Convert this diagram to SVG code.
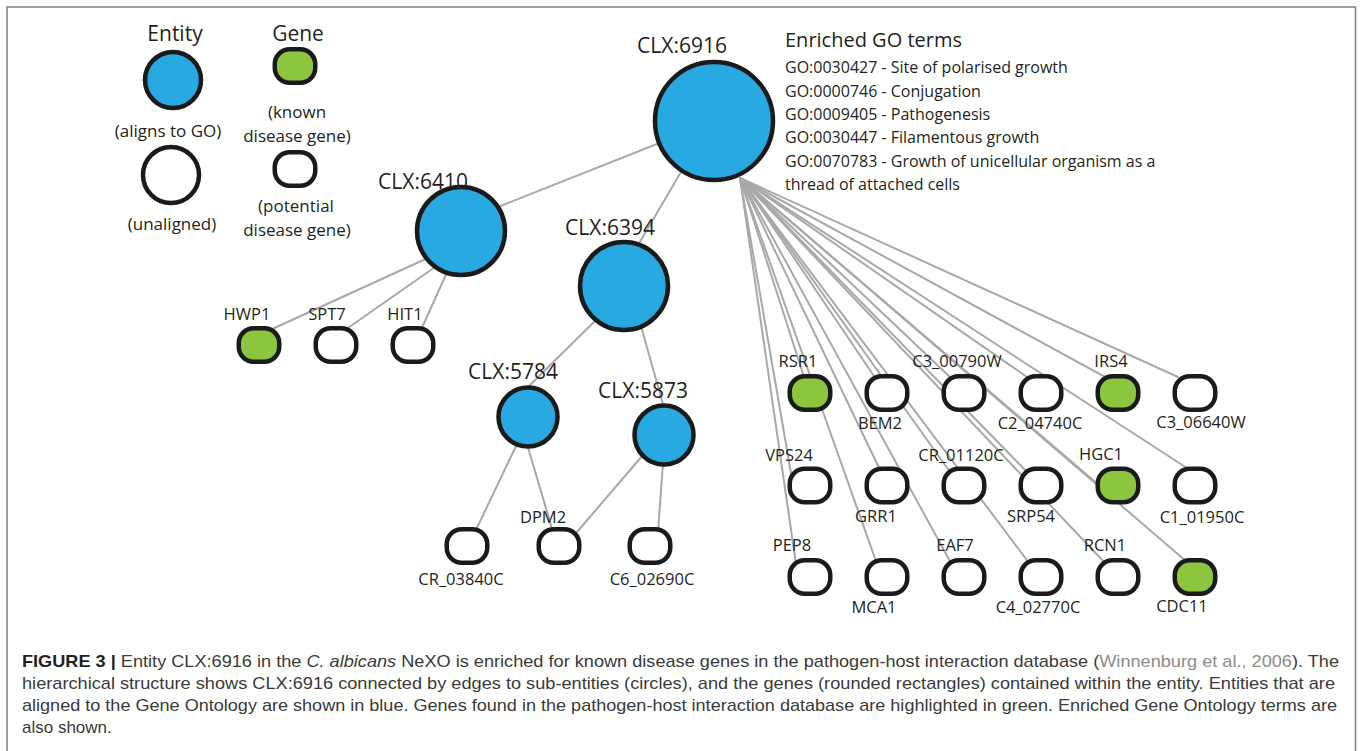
<svg xmlns="http://www.w3.org/2000/svg" xmlns:xlink="http://www.w3.org/1999/xlink" width="1360" height="751" viewBox="0 0 1360 751">
<style>
.edge{stroke:#a8a8a8;stroke-width:2;fill:none;stroke-linecap:round}
.ent{stroke:#1a1a1a;stroke-width:4.5}
.blue{fill:#29a9e1}
.green{fill:#8cc63f}
.white{fill:#ffffff}
.gene{stroke:#1a1a1a;stroke-width:4.5}
.lbl{font-family:"Open Sans","Noto Sans",sans-serif;fill:#231f20;text-anchor:middle}
.clx{font-size:21px}
.gl{font-size:16.5px}
.leg{font-size:17px}
.legt{font-size:21px}
.go{font-family:"Open Sans","Noto Sans",sans-serif;fill:#231f20;font-size:16px}
.cap{font-family:"Liberation Sans",Arial,sans-serif;font-size:17px;fill:#3a3a3a}
</style>
<defs>
<rect id="gb" x="-20.25" y="-16.75" width="40.5" height="33.5" rx="15" ry="15"/>
</defs>
<rect x="0" y="0" width="1360" height="751" fill="#ffffff"/>
<path d="M7,760 V7 H1355.5 V760" fill="none" stroke="#808080" stroke-width="1.5"/>

<g id="legend">
<text class="lbl legt" x="175" y="41">Entity</text>
<text class="lbl legt" x="298" y="41">Gene</text>
<circle class="ent blue" cx="173" cy="80" r="28"/>
<text class="lbl leg" x="168" y="137">(aligns to GO)</text>
<circle class="ent white" cx="171" cy="175" r="28"/>
<text class="lbl leg" x="172" y="230">(unaligned)</text>
<use xlink:href="#gb" x="295" y="66" class="gene green"/>
<text class="lbl leg" x="297" y="118">(known</text>
<text class="lbl leg" x="297" y="142">disease gene)</text>
<use xlink:href="#gb" x="295" y="169" class="gene white"/>
<text class="lbl leg" x="296" y="212">(potential</text>
<text class="lbl leg" x="297" y="236">disease gene)</text>
</g>

<g id="connectors">
<line class="edge" x1="662" y1="142" x2="498" y2="207"/>
<line class="edge" x1="688" y1="160" x2="634" y2="252"/>
<line class="edge" x1="430" y1="257" x2="270" y2="330"/>
<line class="edge" x1="438" y1="265" x2="345" y2="330"/>
<line class="edge" x1="449" y1="268" x2="420" y2="332"/>
<line class="edge" x1="598" y1="318" x2="525" y2="390"/>
<line class="edge" x1="641" y1="326" x2="664" y2="408"/>
<line class="edge" x1="517" y1="444" x2="475" y2="532"/>
<line class="edge" x1="527" y1="444" x2="553" y2="532"/>
<line class="edge" x1="643" y1="455" x2="577" y2="532"/>
<line class="edge" x1="663" y1="463" x2="658" y2="532"/>
<g id="fan">
<line class="edge" x1="740" y1="178" x2="796" y2="564"/>
<line class="edge" x1="740" y1="178" x2="791" y2="473"/>
<line class="edge" x1="740" y1="178" x2="805" y2="380"/>
<line class="edge" x1="740" y1="178" x2="877" y2="564"/>
<line class="edge" x1="740" y1="178" x2="881" y2="472"/>
<line class="edge" x1="740" y1="178" x2="876" y2="379"/>
<line class="edge" x1="740" y1="178" x2="951" y2="563"/>
<line class="edge" x1="740" y1="178" x2="950" y2="472"/>
<line class="edge" x1="740" y1="178" x2="951" y2="378"/>
<line class="edge" x1="740" y1="178" x2="1029" y2="563"/>
<line class="edge" x1="740" y1="178" x2="1026" y2="471"/>
<line class="edge" x1="740" y1="178" x2="1027" y2="377"/>
<line class="edge" x1="740" y1="178" x2="1106" y2="564"/>
<line class="edge" x1="740" y1="178" x2="1100" y2="486"/>
<line class="edge" x1="740" y1="178" x2="1107" y2="378"/>
<line class="edge" x1="740" y1="178" x2="1187" y2="562"/>
<line class="edge" x1="740" y1="178" x2="1190" y2="470"/>
<line class="edge" x1="740" y1="178" x2="1178" y2="377"/>
</g>
</g>

<g id="CLX6916">
<circle class="ent blue" cx="714" cy="121" r="59"/>
<text class="lbl clx" x="682" y="53">CLX:6916</text>
</g>
<g id="GOterms">
<text class="go" x="785" y="47" style="font-size:20px">Enriched GO terms</text>
<text class="go" x="785" y="73">GO:0030427 - Site of polarised growth</text>
<text class="go" x="785" y="97">GO:0000746 - Conjugation</text>
<text class="go" x="785" y="120">GO:0009405 - Pathogenesis</text>
<text class="go" x="785" y="143">GO:0030447 - Filamentous growth</text>
<text class="go" x="785" y="167">GO:0070783 - Growth of unicellular organism as a</text>
<text class="go" x="785" y="190">thread of attached cells</text>
</g>
<g id="CLX6410">
<circle class="ent blue" cx="461" cy="231" r="44"/>
<text class="lbl clx" x="423" y="189">CLX:6410</text>
</g>
<g id="CLX6394">
<circle class="ent blue" cx="624" cy="286" r="44"/>
<text class="lbl clx" x="610" y="235">CLX:6394</text>
</g>
<g id="CLX5784">
<circle class="ent blue" cx="528" cy="417" r="29.5"/>
<text class="lbl clx" x="513" y="379">CLX:5784</text>
</g>
<g id="CLX5873">
<circle class="ent blue" cx="664" cy="435" r="29.5"/>
<text class="lbl clx" x="643" y="398">CLX:5873</text>
</g>

<g id="HWP1"><use xlink:href="#gb" x="259" y="345" class="gene green"/><text class="lbl gl" x="247" y="320">HWP1</text></g>
<g id="SPT7"><use xlink:href="#gb" x="336" y="345" class="gene white"/><text class="lbl gl" x="327" y="320">SPT7</text></g>
<g id="HIT1"><use xlink:href="#gb" x="413" y="345" class="gene white"/><text class="lbl gl" x="405" y="320">HIT1</text></g>
<g id="CR_03840C"><use xlink:href="#gb" x="467" y="546" class="gene white"/><text class="lbl gl" x="461" y="585">CR_03840C</text></g>
<g id="DPM2"><use xlink:href="#gb" x="559" y="546" class="gene white"/><text class="lbl gl" x="543" y="523">DPM2</text></g>
<g id="C6_02690C"><use xlink:href="#gb" x="650" y="546" class="gene white"/><text class="lbl gl" x="652" y="585">C6_02690C</text></g>

<g id="RSR1"><use xlink:href="#gb" x="810" y="393" class="gene green"/><text class="lbl gl" x="798" y="367">RSR1</text></g>
<g id="BEM2"><use xlink:href="#gb" x="887" y="393" class="gene white"/><text class="lbl gl" x="880" y="429">BEM2</text></g>
<g id="C3_00790W"><use xlink:href="#gb" x="964" y="393" class="gene white"/><text class="lbl gl" x="957" y="367">C3_00790W</text></g>
<g id="C2_04740C"><use xlink:href="#gb" x="1041" y="393" class="gene white"/><text class="lbl gl" x="1040" y="429">C2_04740C</text></g>
<g id="IRS4"><use xlink:href="#gb" x="1118" y="393" class="gene green"/><text class="lbl gl" x="1111" y="367">IRS4</text></g>
<g id="C3_06640W"><use xlink:href="#gb" x="1195" y="393" class="gene white"/><text class="lbl gl" x="1201" y="428">C3_06640W</text></g>

<g id="VPS24"><use xlink:href="#gb" x="810" y="485.5" class="gene white"/><text class="lbl gl" x="789" y="461">VPS24</text></g>
<g id="GRR1"><use xlink:href="#gb" x="887" y="485.5" class="gene white"/><text class="lbl gl" x="876" y="522">GRR1</text></g>
<g id="CR_01120C"><use xlink:href="#gb" x="964" y="485.5" class="gene white"/><text class="lbl gl" x="961" y="461">CR_01120C</text></g>
<g id="SRP54"><use xlink:href="#gb" x="1041" y="485.5" class="gene white"/><text class="lbl gl" x="1031" y="522">SRP54</text></g>
<g id="HGC1"><use xlink:href="#gb" x="1118" y="485.5" class="gene green"/><text class="lbl gl" x="1101" y="460">HGC1</text></g>
<g id="C1_01950C"><use xlink:href="#gb" x="1195" y="485.5" class="gene white"/><text class="lbl gl" x="1202" y="523">C1_01950C</text></g>

<g id="PEP8"><use xlink:href="#gb" x="810" y="577" class="gene white"/><text class="lbl gl" x="792" y="551">PEP8</text></g>
<g id="MCA1"><use xlink:href="#gb" x="887" y="577" class="gene white"/><text class="lbl gl" x="874" y="613">MCA1</text></g>
<g id="EAF7"><use xlink:href="#gb" x="964" y="577" class="gene white"/><text class="lbl gl" x="955" y="551">EAF7</text></g>
<g id="C4_02770C"><use xlink:href="#gb" x="1041" y="577" class="gene white"/><text class="lbl gl" x="1038" y="613">C4_02770C</text></g>
<g id="RCN1"><use xlink:href="#gb" x="1118" y="577" class="gene white"/><text class="lbl gl" x="1105" y="551">RCN1</text></g>
<g id="CDC11"><use xlink:href="#gb" x="1195" y="577" class="gene green"/><text class="lbl gl" x="1182" y="612">CDC11</text></g>

<g id="caption">
<text class="cap" x="22" y="667" textLength="1317" lengthAdjust="spacingAndGlyphs"><tspan font-weight="700" fill="#231f20" style="font-weight:700">FIGURE 3 |</tspan> Entity CLX:6916 in the <tspan font-style="italic">C. albicans</tspan> NeXO is enriched for known disease genes in the pathogen-host interaction database (<tspan fill="#8c8c8c">Winnenburg et al., 2006</tspan>). The</text>
<text class="cap" x="22" y="689" textLength="1313" lengthAdjust="spacingAndGlyphs">hierarchical structure shows CLX:6916 connected by edges to sub-entities (circles), and the genes (rounded rectangles) contained within the entity. Entities that are</text>
<text class="cap" x="22" y="711" textLength="1315" lengthAdjust="spacingAndGlyphs">aligned to the Gene Ontology are shown in blue. Genes found in the pathogen-host interaction database are highlighted in green. Enriched Gene Ontology terms are</text>
<text class="cap" x="22" y="733">also shown.</text>
</g>
</svg>
